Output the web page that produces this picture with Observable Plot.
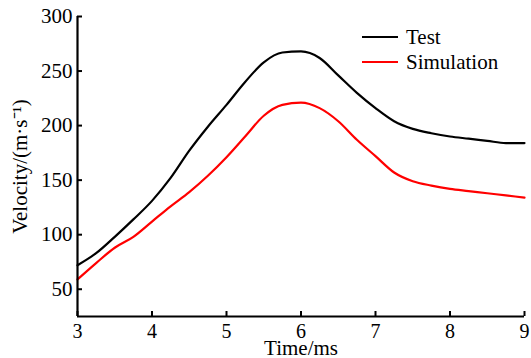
<!DOCTYPE html>
<html><head><meta charset="utf-8">
<script src="https://cdn.jsdelivr.net/npm/d3@7"></script>
<script src="https://cdn.jsdelivr.net/npm/@observablehq/plot@0.6"></script>
<style>
body{margin:0;background:#fff;}
#wrap{position:relative;width:531px;height:358px;font-family:"Liberation Serif","Times New Roman",serif;color:#000;}
#wrap svg, #wrap svg text{font-family:"Liberation Serif","Times New Roman",serif !important;font-variant:normal !important;}
.leg{position:absolute;left:362px;height:24px;display:flex;align-items:center;font-size:21px;line-height:24px;}
.leg .sw{display:inline-block;width:36px;height:2.5px;margin-right:8px;}
</style></head><body><div id="wrap"></div>
<script>
const time = [3, 3.25, 3.5, 3.75, 4, 4.25, 4.5, 4.75, 5, 5.25, 5.5, 5.75, 6, 6.25, 6.5, 6.75, 7, 7.25, 7.5, 7.75, 8, 8.25, 8.5, 8.75, 9];
const test = [72, 83, 98, 114, 131, 152, 177, 199, 219, 240, 258, 267, 268, 262, 246, 230, 216, 204, 197, 193, 190, 188, 186, 184, 184];
const simulation = [59, 74, 88, 98, 112, 126, 139, 154, 171, 190, 209, 219, 221, 216, 204, 187, 172, 157, 149, 145, 142, 140, 138, 136, 134];
const seriesNames = ["Test", "Simulation"];
const seriesColors = ["#000000", "#ff0000"];
const xTicks = [3, 4, 5, 6, 7, 8, 9];
const yTicks = [50, 100, 150, 200, 250, 300];

const seriesValues = [test, simulation];
const rows = seriesNames.flatMap((name, s) => time.map((t, i) => ({series: name, t, v: seriesValues[s][i]})));

const font = '"Liberation Serif","Times New Roman",serif';
const chart = Plot.plot({
  width: 531, height: 358,
  marginLeft: 77, marginRight: 7, marginTop: 16, marginBottom: 42,
  style: {fontFamily: font, fontSize: "21px", background: "white", color: "black", overflow: "visible"},
  x: {domain: [3, 9]},
  y: {domain: [25, 300]},
  color: {domain: seriesNames, range: seriesColors},
  marks: [
    Plot.line(rows, {x: "t", y: "v", z: "series", stroke: "series", strokeWidth: 2.2, curve: "monotone-x"}),
    Plot.ruleY([25], {stroke: "black", strokeWidth: 2.2}),
    Plot.ruleX([3], {stroke: "black", strokeWidth: 2.2}),
    Plot.axisX(xTicks, {tickSize: -5, tickPadding: 12, strokeWidth: 2, fontSize: 20, fontFamily: font, label: null}),
    Plot.axisY(yTicks, {tickSize: -5, tickPadding: 10, strokeWidth: 2, fontSize: 21, fontFamily: font, label: null}),
    Plot.text(["Time/ms"], {frameAnchor: "bottom", dy: 38, lineAnchor: "bottom", fontSize: 21, fontFamily: font, fill: "black"}),
    Plot.text(["Velocity/(m·s⁻¹)"], {frameAnchor: "left", dx: -57, rotate: -90, textAnchor: "middle", lineAnchor: "middle", fontSize: 21, fontFamily: font, fill: "black"})
  ]
});
const wrap = document.getElementById("wrap");
wrap.appendChild(chart);
const legendTops = [25, 50];
seriesNames.forEach((name, i) => {
  const d = document.createElement("div");
  d.className = "leg";
  d.style.top = legendTops[i] + "px";
  d.innerHTML = `<span class="sw" style="background:${seriesColors[i]}"></span><span>${name}</span>`;
  wrap.appendChild(d);
});
</script>
</body></html>
